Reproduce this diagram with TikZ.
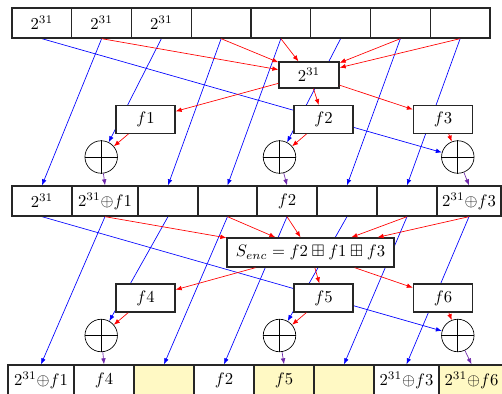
\documentclass[tikz,border=0pt]{standalone}
\usepackage{amssymb}
\usetikzlibrary{arrows.meta,backgrounds}
\definecolor{cellyellow}{RGB}{255,249,196}
\definecolor{xorpurple}{RGB}{110,40,170}
\begin{document}
\begin{tikzpicture}[x=0.6pt,y=-0.6pt,
  cell/.style={draw=black!85, thick, fill=white, inner sep=0pt, minimum height=18pt},
  ycell/.style={cell, fill=cellyellow},
  fbox/.style={draw=black!85, thick, fill=white, inner sep=0pt, minimum width=35.4pt, minimum height=16.5pt},
  xorc/.style={circle, draw, fill=white, inner sep=0pt, minimum size=19.5pt},
  tip/.style={-{Latex[length=3.6pt,width=2.8pt]}},
  barrow/.style={blue, tip},
  rarrow/.style={red, tip},
  parrow/.style={xorpurple, tip}]
\useasboundingbox (0,0) rectangle (502,394);
\clip (0,0) rectangle (502,394);
% top row
\node[cell, minimum width=35.85pt] (t1) at (41.875,23) {$2^{31}$};
\node[cell, minimum width=35.85pt] (t2) at (101.625,23) {$2^{31}$};
\node[cell, minimum width=35.85pt] (t3) at (161.375,23) {$2^{31}$};
\node[cell, minimum width=35.85pt] (t4) at (221.125,23) {};
\node[cell, minimum width=35.85pt] (t5) at (280.875,23) {};
\node[cell, minimum width=35.85pt] (t6) at (340.625,23) {};
\node[cell, minimum width=35.85pt] (t7) at (400.375,23) {};
\node[cell, minimum width=35.85pt] (t8) at (460.125,23) {};
% middle row
\node[cell, minimum width=36pt] (m1) at (42,201) {$2^{31}$};
\node[cell, minimum width=39.6pt] (m2) at (105,201) {$2^{31}{\oplus}f1$};
\node[cell, minimum width=36pt] (m3) at (168,201) {};
\node[cell, minimum width=35.4pt] (m4) at (227.5,201) {};
\node[cell, minimum width=36pt] (m5) at (287,201) {$f2$};
\node[cell, minimum width=36pt] (m6) at (347,201) {};
\node[cell, minimum width=36pt] (m7) at (407,201) {};
\node[cell, minimum width=38.4pt] (m8) at (469,201) {$2^{31}{\oplus}f3$};
% bottom row
\node[cell, minimum width=39.6pt] (b1) at (41,380) {$2^{31}{\oplus}f1$};
\node[cell, minimum width=36pt] (b2) at (104,380) {$f4$};
\node[ycell, minimum width=36pt] (b3) at (164,380) {};
\node[cell, minimum width=36pt] (b4) at (224,380) {$f2$};
\node[ycell, minimum width=36pt] (b5) at (284,380) {$f5$};
\node[ycell, minimum width=36pt] (b6) at (344,380) {};
\node[cell, minimum width=39pt] (b7) at (406.5,380) {$2^{31}{\oplus}f3$};
\node[ycell, minimum width=39pt] (b8) at (471.5,380) {$2^{31}{\oplus}f6$};
% stage 1 boxes
\node[fbox, minimum width=36pt, minimum height=15.6pt] (B) at (309,75) {$2^{31}$};
\node[fbox] (f1) at (145.5,119.5) {$f1$};
\node[fbox] (f2) at (323.5,119.5) {$f2$};
\node[fbox] (f3) at (443,119.5) {$f3$};
\node[xorc] (x1) at (101.2,157) {};
\node[xorc] (x2) at (279.5,157) {};
\node[xorc] (x3) at (457.8,157) {};
% stage 2 boxes
\node[fbox, minimum width=100.2pt, minimum height=17.4pt] (S) at (310.5,252.5) {$S_{enc} = f2 \boxplus f1 \boxplus f3$};
\node[fbox, minimum height=16.8pt] (f4) at (145.5,298) {$f4$};
\node[fbox, minimum height=16.8pt] (f5) at (323.5,298) {$f5$};
\node[fbox, minimum height=16.8pt] (f6) at (443,298) {$f6$};
\node[xorc] (x4) at (101.2,335.5) {};
\node[xorc] (x5) at (279.5,335.5) {};
\node[xorc] (x6) at (457.8,335.5) {};
% plus signs
\foreach \c in {x1,x2,x3,x4,x5,x6}{
  \draw (\c.north) -- (\c.south) (\c.west) -- (\c.east);
}
% blue (behind boxes)
\begin{pgfonlayer}{background}
\draw[barrow] (t1.south) -- (x3);
\draw[barrow] (t2.south) -- (m1.north);
\draw[barrow] (t3.south) -- (x1);
\draw[barrow] (t4.south) -- (m3.north);
\draw[barrow] (t5.south) -- (m4.north);
\draw[barrow] (t6.south) -- (x2);
\draw[barrow] (t7.south) -- (m6.north);
\draw[barrow] (t8.south) -- (m7.north);
\draw[barrow] (m1.south) -- (x6);
\draw[barrow] (m2.south) -- (b1.north);
\draw[barrow] (m3.south) -- (x4);
\draw[barrow] (m4.south) -- (b3.north);
\draw[barrow] (m5.south) -- (b4.north);
\draw[barrow] (m6.south) -- (x5);
\draw[barrow] (m7.south) -- (b6.north);
\draw[barrow] (m8.south) -- (b7.north);
\end{pgfonlayer}
% red
\foreach \a in {t2,t4,t5,t7,t8}{ \draw[rarrow] (\a.south) -- (B); }
\foreach \a in {f1,f2,f3}{ \draw[rarrow] (B) -- (\a); }
\draw[rarrow] (f1) -- (x1);
\draw[rarrow] (f2) -- (x2);
\draw[rarrow] (f3) -- (x3);
\foreach \a in {m2,m4,m5,m7,m8}{ \draw[rarrow] (\a.south) -- (S); }
\foreach \a in {f4,f5,f6}{ \draw[rarrow] (S) -- (\a); }
\draw[rarrow] (f4) -- (x4);
\draw[rarrow] (f5) -- (x5);
\draw[rarrow] (f6) -- (x6);
% purple
\draw[parrow] (x1) -- (m2.north);
\draw[parrow] (x2) -- (m5.north);
\draw[parrow] (x3) -- (m8.north);
\draw[parrow] (x4) -- (b2.north);
\draw[parrow] (x5) -- (b5.north);
\draw[parrow] (x6) -- (b8.north);
\end{tikzpicture}
\end{document}
